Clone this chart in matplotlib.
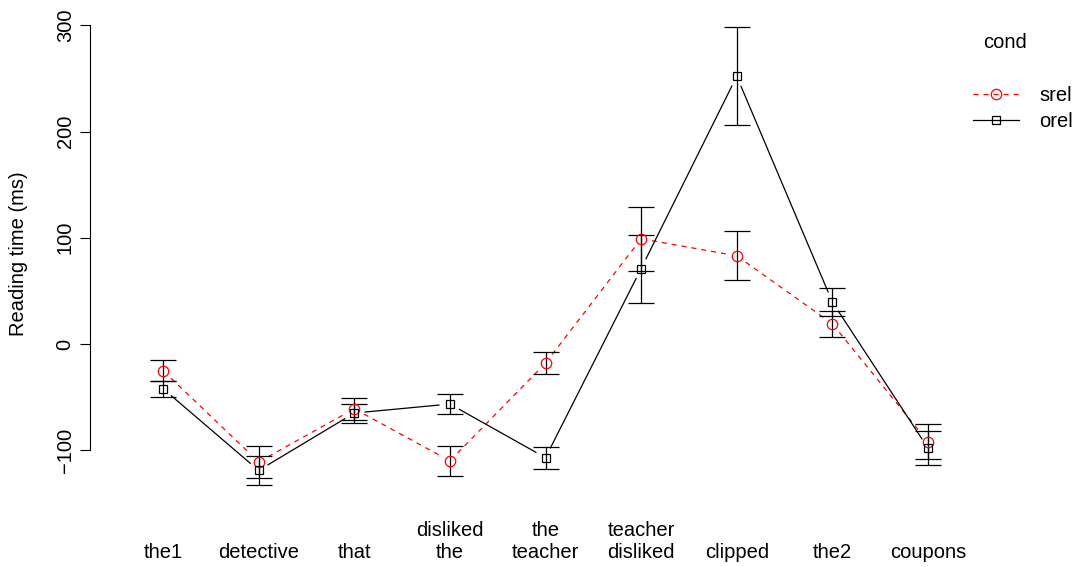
import numpy as np
import matplotlib
matplotlib.use("Agg")
import matplotlib.pyplot as plt
from matplotlib.lines import Line2D

plt.rcParams['font.family'] = ['Liberation Sans', 'DejaVu Sans']

regions = ["the1", "detective", "that", "disliked\nthe", "the\nteacher",
           "teacher\ndisliked", "clipped", "the2", "coupons"]
srel = [-25, -111, -61, -110, -18, 99, 83, 19, -92]
srel_se = [10, 15, 10.5, 14, 10.5, 30, 23, 12.5, 16.5]
orel = [-42, -119, -65, -56.5, -107, 71, 252, 39.5, -98]
orel_se = [7.5, 14, 9, 9, 10.5, 32, 46, 13, 16]

x = np.arange(1, len(regions) + 1)

fig = plt.figure(figsize=(10.89, 5.67), dpi=100)
W, H = 1089, 567
# y: 0 at 344px, 106.25 px per 100 ms
ylo, yhi = -140, 310
px_lo = 344 + 1.0625 * (-ylo)
px_hi = 344 - 1.0625 * yhi
ax = fig.add_axes([90 / W, 1 - px_lo / H, 870 / W, (px_lo - px_hi) / H])
ax.set_ylim(ylo, yhi)
ax.set_xlim(1 - 73 / 95.625, 9 + 32 / 95.625)

for s in ["top", "right", "bottom"]:
    ax.spines[s].set_visible(False)
ax.spines["left"].set_bounds(-100, 300)
ax.spines["left"].set_linewidth(0.8)
ax.set_yticks([-100, 0, 100, 200, 300])
ax.tick_params(axis="y", length=7, width=0.8, labelsize=14.5, pad=4)
ax.set_yticklabels(["\u2212100", "0", "100", "200", "300"])
for lab in ax.get_yticklabels():
    lab.set_rotation(90)
    lab.set_va("center")
ax.set_xticks([])
ax.set_ylabel("Reading time (ms)", fontsize=14.5, labelpad=20)

label_y = -(562 - px_lo) / (px_lo - px_hi)
for xi, lab in zip(x, regions):
    ax.text(xi, label_y, lab, transform=ax.get_xaxis_transform(), ha="center",
            va="bottom", fontsize=14.5, linespacing=1.2)


def gapped_line(xs, ys, gap=11, **kw):
    # R type="b": segments stop short of the points
    pts = ax.transData.transform(np.column_stack([xs, ys]))
    inv = ax.transData.inverted()
    for a, b in zip(pts[:-1], pts[1:]):
        d = b - a
        L = np.hypot(*d)
        if L <= 2 * gap:
            continue
        u = d / L
        seg = inv.transform(np.array([a + u * gap, b - u * gap]))
        ax.plot(seg[:, 0], seg[:, 1], **kw)


fig.canvas.draw()
gapped_line(x, srel, color="red", lw=0.9, ls=(0, (4, 4)))
gapped_line(x, orel, color="black", lw=0.9)

ax.errorbar(x, srel, yerr=srel_se, fmt="none", ecolor="black",
            elinewidth=0.9, capsize=9.5, capthick=0.9)
ax.errorbar(x, orel, yerr=orel_se, fmt="none", ecolor="black",
            elinewidth=0.9, capsize=9.5, capthick=0.9)
ax.plot(x, srel, "o", mfc="none", mec="red", ms=7.5, mew=0.9)
ax.plot(x, orel, "s", mfc="none", mec="black", ms=6.2, mew=0.9)

handles = [
    Line2D([], [], color="red", ls=(0, (4, 4)), lw=0.9, marker="o",
           mfc="none", mec="red", ms=7.5, mew=0.9),
    Line2D([], [], color="black", lw=0.9, marker="s",
           mfc="none", mec="black", ms=6.2, mew=0.9),
]
fig.legend(handles, ["srel", "orel"], loc="upper left",
           bbox_to_anchor=(973 / W, 1 - 86 / H), frameon=False,
           fontsize=14.5, handlelength=2.3, handletextpad=1.0,
           labelspacing=0.35, borderpad=0, borderaxespad=0)
fig.text(1005 / W, 1 - 42 / H, "cond", ha="center", va="center", fontsize=14.5)

fig.savefig("out.png", dpi=100)
